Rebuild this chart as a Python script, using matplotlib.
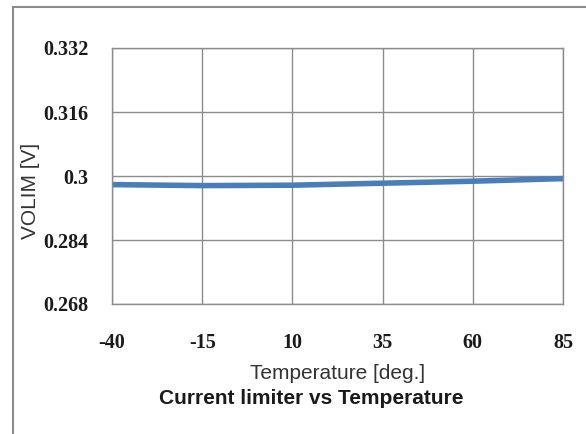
import matplotlib
matplotlib.use('Agg')
import matplotlib.pyplot as plt
from matplotlib.patches import Rectangle

# data
temperature = [-40, -15, 10, 35, 60, 85]
volim = [0.29785, 0.2976, 0.2977, 0.2982, 0.2987, 0.29935]
x_labels = ['-40', '-15', '10', '35', '60', '85']
y_ticks = [0.268, 0.284, 0.3, 0.316, 0.332]
y_labels = ['0.268', '0.284', '0.3', '0.316', '0.332']

fig = plt.figure(figsize=(5.86, 4.34), dpi=100)
fig.patch.set_facecolor('white')

# outer chart frame (cut off at the right and bottom)
fig.patches.append(Rectangle((13 / 586, -0.1), 1.0, 1 - 7 / 434 + 0.1,
                             transform=fig.transFigure, fill=False,
                             edgecolor='#8c8c8c', linewidth=1.5))

ax = fig.add_axes([112 / 586, 1 - 304 / 434, 451 / 586, 256 / 434])
ax.plot(temperature, volim, color='#4a7ebb', linewidth=4, solid_capstyle='butt')

ax.set_xlim(-40, 85)
ax.set_ylim(0.268, 0.332)
ax.set_xticks(temperature)
ax.set_xticklabels(x_labels)
ax.set_yticks(y_ticks)
ax.set_yticklabels(y_labels)
ax.grid(True, color='#8c8c8c', linewidth=1)
ax.set_axisbelow(True)
for s in ax.spines.values():
    s.set_color('#8c8c8c')
    s.set_linewidth(1)

serif = {'family': 'Liberation Serif', 'weight': 'bold', 'size': 14.5}
for lab in ax.get_xticklabels() + ax.get_yticklabels():
    lab.set_fontproperties(serif)
    lab.set_color('#1a1a1a')
ax.tick_params(axis='both', length=0)
ax.tick_params(axis='y', pad=17)
ax.tick_params(axis='x', pad=21)

ax.set_xlabel('Temperature [deg.]', family='Liberation Sans', fontsize=15,
              color='#333333', labelpad=8)
fig.text(31 / 586, 1 - 191 / 434, 'VOLIM [V]', rotation=90, ha='center',
         va='center', family='Liberation Sans', fontsize=15, color='#333333')
fig.text(311 / 586, 1 - 398 / 434, 'Current limiter vs Temperature',
         ha='center', va='center', family='Liberation Sans', weight='bold',
         fontsize=15, color='#1a1a1a')

fig.savefig('out.png', dpi=100)
plt.close(fig)
